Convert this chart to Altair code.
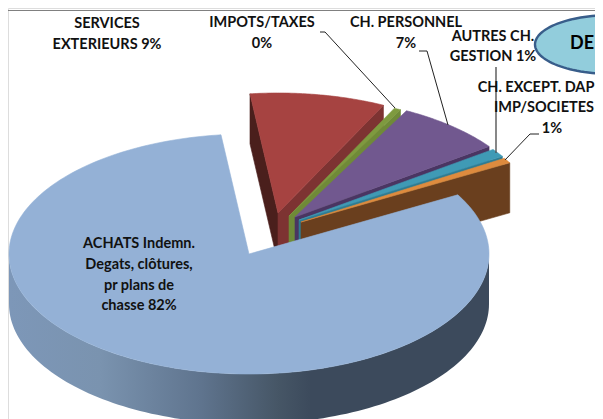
import math
import altair as alt
import pandas as pd

# --- data ---
slice_names = ["SERVICES EXTERIEURS", "IMPOTS/TAXES", "CH. PERSONNEL", "AUTRES CH. GESTION", "CH. EXCEPT. DAP", "ACHATS"]
slice_values = [9.1, 0.45, 7.3, 1.1, 0.7, 81.35]
face_colors = ["#A64341", "#7E9A3F", "#71588F", "#3F9AB5", "#DE8B3E", "#94B1D6"]
wall_colors = ["#7D3332", "#6F8A38", "#4A3562", "#2F7C92", "#6A3F1E", "#94B1D6"]

label_text = ["SERVICES", "EXTERIEURS 9%", "IMPOTS/TAXES", "0%", "CH. PERSONNEL", "7%",
              "AUTRES CH.", "GESTION 1%", "CH. EXCEPT. DAP", "IMP/SOCIETES", "1%",
              "ACHATS Indemn.", "Degats, clôtures,", "pr plans de", "chasse 82%"]
label_x = [107, 107, 262, 262, 406, 406, 493, 493, 536, 544, 552, 139, 139, 139, 139]
label_y = [22, 43, 21, 42, 21, 42, 35, 55, 86, 106, 127, 242, 263, 284, 304]

# --- pie geometry ---
CX, CY, RX, RY, DEPTH = 249.5, 253, 240, 120, 50
START = -6.7
apex = [(278, 211), (289, 214), (295, 215), (299, 218), (301, 220), (249, 252)]
W, H = 587, 411
Y_TOP = 6  # picture row drawn at the plot's top edge


def rim(ax, ay, t):
    r = math.radians(t)
    return ax + RX * math.sin(r), ay - RY * math.cos(r)


def arc(ax, ay, t0, t1, n=60):
    return [rim(ax, ay, t0 + (t1 - t0) * i / n) for i in range(n + 1)]


xs = alt.Scale(domain=[8, 8 + W], range=[0, W], nice=False, zero=False)
ys = alt.Scale(domain=[Y_TOP, Y_TOP + H], range=[0, H], nice=False, zero=False)


def poly(points, fill, stroke=None, width=0.6):
    pts = list(points) + [points[0]]
    df = pd.DataFrame({"x": [p[0] for p in pts], "y": [p[1] for p in pts], "i": range(len(pts))})
    return alt.Chart(df).mark_line(fill=fill, stroke=stroke or (fill if isinstance(fill, str) else "#5a6c82"),
                                   strokeWidth=width, clip=True).encode(
        x=alt.X("x:Q", scale=xs, axis=None), y=alt.Y("y:Q", scale=ys, axis=None), order="i:Q")


def path(points, color, width=1.0):
    df = pd.DataFrame({"x": [p[0] for p in points], "y": [p[1] for p in points], "i": range(len(points))})
    return alt.Chart(df).mark_line(stroke=color, strokeWidth=width, clip=True).encode(
        x=alt.X("x:Q", scale=xs, axis=None), y=alt.Y("y:Q", scale=ys, axis=None), order="i:Q")


layers = []
angles = []
t = START
for v in slice_values:
    angles.append((t, t + v * 3.6))
    t += v * 3.6

# back slices, walls then tops
for k in range(5):
    ax, ay = apex[k]
    t0, t1 = angles[k]
    if k == 0:
        ox, oy = rim(ax, ay, t0)
        layers.append(poly([(ax, ay), (ox, oy), (ox, oy + DEPTH), (ax, ay + DEPTH)], "#4A1F1C"))
    ox, oy = rim(ax, ay, t1)
    layers.append(poly([(ax, ay), (ox, oy), (ox, oy + DEPTH), (ax, ay + DEPTH)], wall_colors[k]))
    layers.append(poly([(ax, ay)] + arc(ax, ay, t0, t1), face_colors[k]))

# big slice: rim with gradient, then top
ax, ay = apex[5]
t0, t1 = angles[5]
front = arc(ax, ay, 90, 270, 120)
rim_grad = alt.Gradient(gradient="linear", x1=0, x2=1, y1=0, y2=0, stops=[
    alt.GradientStop(offset=0, color="#7D97B8"),
    alt.GradientStop(offset=0.19, color="#7A93AF"),
    alt.GradientStop(offset=0.40, color="#5F748E"),
    alt.GradientStop(offset=0.56, color="#465666"),
    alt.GradientStop(offset=0.63, color="#3C4A5C"),
    alt.GradientStop(offset=1, color="#3C4A5C"),
])
layers.append(poly(front + [(x, y + DEPTH) for x, y in reversed(front)], rim_grad, stroke="#5a6c82", width=0))
layers.append(poly([(ax, ay)] + arc(ax, ay, t0, t1, 240), face_colors[5]))

# leader lines
layers.append(path([(320, 30), (325, 30), (395, 106)], "#222222"))
layers.append(path([(419, 49), (427, 49), (448, 123)], "#222222"))
layers.append(path([(496, 65), (496, 151)], "#555555", 1.4))
layers.append(path([(539, 132), (530, 132), (505, 158)], "#222222"))

# top rule
layers.append(path([(8, 8.5), (595, 8.5)], "#808080", 1.2))

# title ellipse
ell = [(612 + 77 * math.cos(math.radians(a)), 42.5 + 29.5 * math.sin(math.radians(a))) for a in range(0, 360, 3)]
layers.append(poly(ell, "#92CDDC", stroke="#385D8A", width=2.4))

labels = pd.DataFrame({"t": label_text, "x": label_x, "y": label_y})
layers.append(alt.Chart(labels).mark_text(font="Lato", fontWeight="bold", fontSize=14.5, color="#111111",
                                          align="center", baseline="middle").encode(
    x=alt.X("x:Q", scale=xs, axis=None), y=alt.Y("y:Q", scale=ys, axis=None), text="t:N"))
title_df = pd.DataFrame({"t": ["DE"], "x": [570], "y": [42]})
layers.append(alt.Chart(title_df).mark_text(font="Lato", fontWeight="bold", fontSize=18, color="#000000",
                                            align="left", baseline="middle").encode(
    x=alt.X("x:Q", scale=xs, axis=None), y=alt.Y("y:Q", scale=ys, axis=None), text="t:N"))

chart = alt.layer(*layers).properties(
    width=W, height=H, padding=0, autosize=alt.AutoSizeParams(type="none"),
).configure_view(stroke=None).configure(background="white")

chart.save("out.html", embed_options={"renderer": "svg", "actions": False})
